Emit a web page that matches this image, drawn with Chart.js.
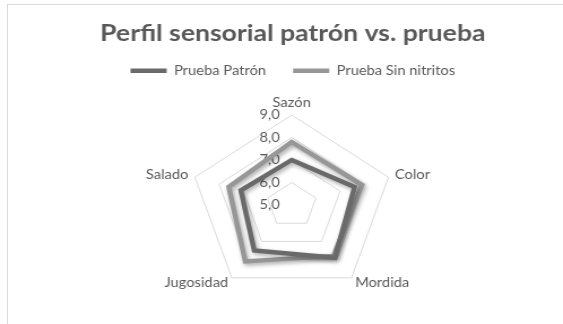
<!DOCTYPE html>
<html>
<head>
<meta charset="utf-8">
<script src="https://cdn.jsdelivr.net/npm/chart.js@4/dist/chart.umd.min.js"></script>
<style>
  html, body { margin: 0; padding: 0; background: #ffffff; overflow: hidden; }
  #frame { position: absolute; left: 7px; top: 4px; width: 600px; height: 360px; border: 1px solid #d9d9d9; box-sizing: border-box; }
  #wrap { position: absolute; left: 0; top: 0; width: 498px; height: 324px; transform: scaleX(1.1305); transform-origin: 0 0; }
</style>
</head>
<body>
<div id="frame"></div>
<div id="wrap"><canvas id="c"></canvas></div>
<script>
const categories = ['Sazón', 'Color', 'Mordida', 'Jugosidad', 'Salado'];
const pruebaPatron = [7.0, 7.6, 7.9, 7.5, 7.1];
const pruebaSinNitritos = [7.8, 7.9, 7.8, 8.1, 7.6];
const tickValues = [5, 6, 7, 8, 9];
const tickLabels = ['5,0', '6,0', '7,0', '8,0', '9,0'];
const seriesNames = ['Prueba Patrón', 'Prueba Sin nitritos'];

// layout of the radar inside the (unstretched) canvas
const radarLayout = { cx: 258, cy: 205, radius: 90 };
const labelPadding = [3, -2.5, -3, -3, -2.5];

const shadowPlugin = {
  id: 'lineShadow',
  beforeDatasetDraw(chart) {
    const ctx = chart.ctx;
    ctx.save();
    ctx.shadowColor = 'rgba(0,0,0,0.35)';
    ctx.shadowBlur = 4;
    ctx.shadowOffsetX = 1.5;
    ctx.shadowOffsetY = 2;
  },
  afterDatasetDraw(chart) {
    chart.ctx.restore();
  }
};

new Chart(document.getElementById('c'), {
  type: 'radar',
  data: {
    labels: categories,
    datasets: [
      {
        label: seriesNames[0],
        data: pruebaPatron,
        borderColor: '#6a6a6a',
        backgroundColor: '#6a6a6a',
        borderWidth: 4.5,
        borderCapStyle: 'round',
        borderJoinStyle: 'miter',
        fill: false,
        pointRadius: 0,
        pointHoverRadius: 0
      },
      {
        label: seriesNames[1],
        data: pruebaSinNitritos,
        borderColor: '#979797',
        backgroundColor: '#979797',
        borderWidth: 4.5,
        borderCapStyle: 'round',
        borderJoinStyle: 'miter',
        fill: false,
        pointRadius: 0,
        pointHoverRadius: 0
      }
    ]
  },
  options: {
    responsive: true,
    maintainAspectRatio: false,
    animation: false,
    layout: { padding: { left: 20, right: 0, top: 0, bottom: 0 } },
    plugins: {
      title: {
        display: true,
        text: 'Perfil sensorial patrón vs. prueba',
        color: '#595959',
        font: { family: 'Lato', size: 23.5, weight: 'bold' },
        padding: { top: 19, bottom: -7 }
      },
      legend: {
        display: true,
        position: 'top',
        labels: {
          color: '#595959',
          font: { family: 'Lato', size: 13 },
          usePointStyle: true,
          pointStyle: 'line',
          pointStyleWidth: 32,
          padding: 24
        }
      },
      tooltip: { enabled: false }
    },
    scales: {
      r: {
        min: 5,
        max: 9,
        afterSetDimensions(scale) {
          const c = scale.chart;
          scale.left = 0; scale.top = 0;
          scale.right = c.width; scale.bottom = c.height;
          scale.width = c.width; scale.height = c.height;
          scale.xCenter = radarLayout.cx;
          scale.yCenter = radarLayout.cy;
          scale.drawingArea = radarLayout.radius;
        },
        afterBuildTicks(scale) {
          scale.ticks = [{ value: tickValues[0] }].concat(tickValues.map(v => ({ value: v })));
        },
        ticks: {
          display: true,
          showLabelBackdrop: false,
          color: '#595959',
          font: { family: 'Lato', size: 13 },
          callback: (value, index) => index === 0 ? '' : tickLabels[index - 1] + '\u2003\u2003\u2003\u2003'
        },
        grid: { color: '#d9d9d9', lineWidth: 1 },
        angleLines: { display: false },
        pointLabels: {
          color: '#595959',
          font: { family: 'Lato', size: 13, lineHeight: 0.1 },
          padding: (ctx) => labelPadding[ctx.index]
        }
      }
    }
  },
  plugins: [shadowPlugin]
});
</script>
</body>
</html>
